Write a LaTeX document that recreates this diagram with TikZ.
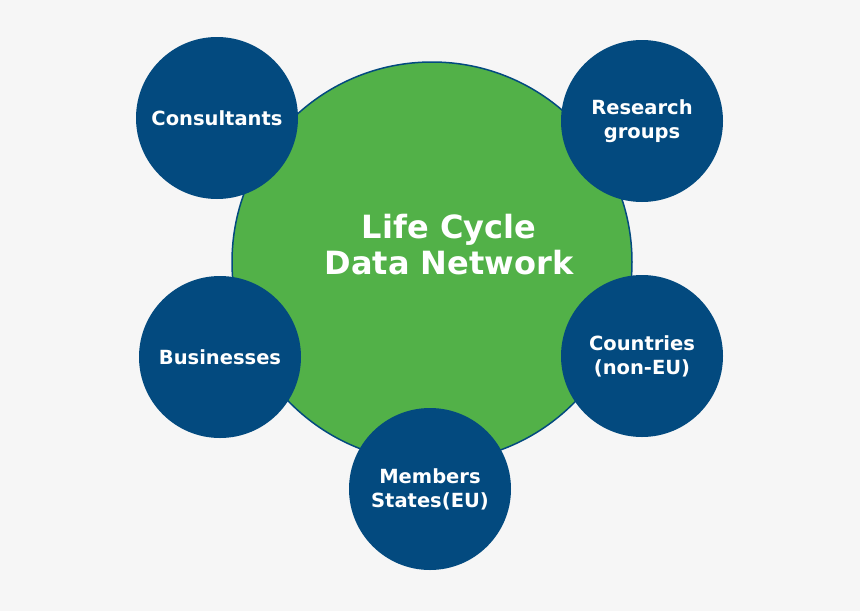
\documentclass[tikz,border=0pt]{standalone}
\usepackage{fontspec}
\setmainfont{DejaVu Sans}
\definecolor{bg}{HTML}{F6F6F6}
\definecolor{grn}{HTML}{52B148}
\definecolor{blu}{HTML}{034A7F}
\begin{document}
\begin{tikzpicture}[x=1pt,y=-1pt,
  sat/.style={circle,fill=blu,minimum size=162pt,inner sep=0pt,text=white,font=\bfseries\fontsize{19.5}{24}\selectfont,align=center}]
\fill[bg] (0,0) rectangle (860,611);
\node[circle,fill=grn,draw=blu,line width=1.5pt,minimum size=400pt,inner sep=0pt] (c) at (432,262) {};
\node[text=white,font=\bfseries\fontsize{32}{36}\selectfont,align=center] (t) at (449,245) {Life Cycle\\Data Network};
\node[sat] (a) at (217,118) {Consultants};
\node[sat] (b) at (642,121) {Research\\groups};
\node[sat] (d) at (220,357) {Businesses};
\node[sat] (e) at (642,356) {Countries\\(non-EU)};
\node[sat] (f) at (430,489) {Members\\States(EU)};
\end{tikzpicture}
\end{document}
